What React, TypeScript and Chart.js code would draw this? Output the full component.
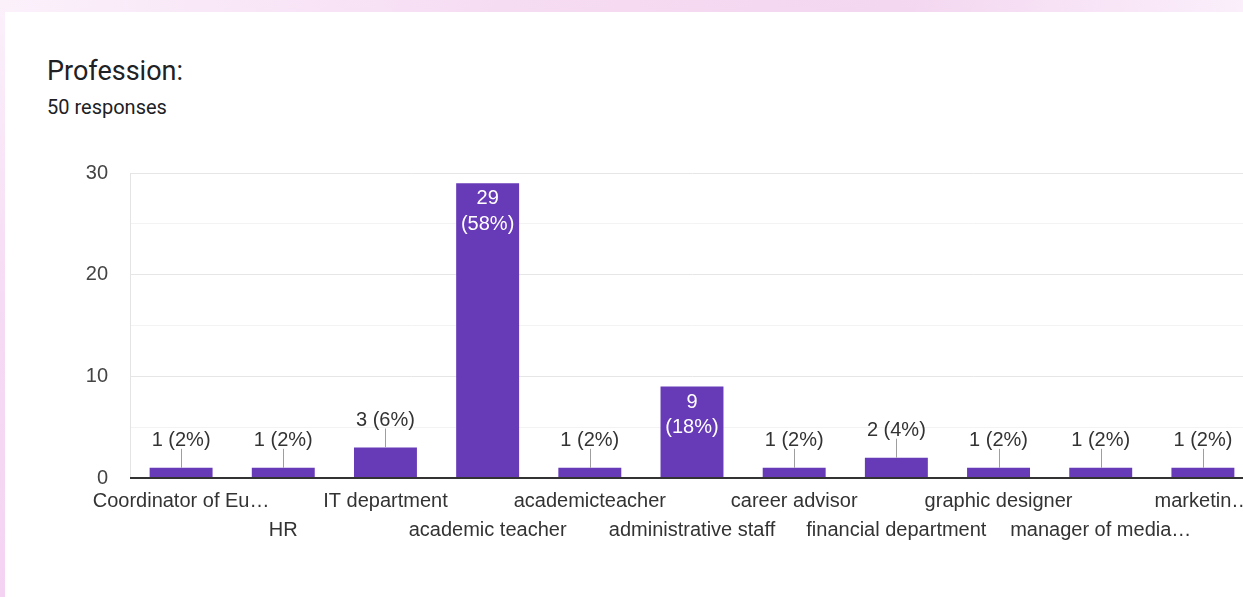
import React, { useEffect, useRef } from 'react';
import { Chart, registerables } from 'chart.js';

Chart.register(...registerables);

const categories = [
  'Coordinator of Eu…',
  'HR',
  'IT department',
  'academic teacher',
  'academicteacher',
  'administrative staff',
  'career advisor',
  'financial department',
  'graphic designer',
  'manager of media…',
  'marketin…',
];
const counts = [1, 1, 3, 29, 1, 9, 1, 2, 1, 1, 1];
const totalResponses = 50;
const yMax = 30;

const FONT = '"Liberation Sans", Arial, sans-serif';

const labelPlugin = {
  id: 'barLabels',
  afterDatasetsDraw(chart: any) {
    const { ctx, chartArea } = chart;
    const meta = chart.getDatasetMeta(0);
    ctx.save();
    ctx.font = `20px ${FONT}`;
    ctx.textAlign = 'center';
    ctx.textBaseline = 'middle';
    let baseY = chartArea.bottom;
    meta.data.forEach((bar: any, i: number) => {
      const v = counts[i];
      const pct = Math.round((v / totalResponses) * 100);
      const { x, y, base } = bar.getProps(['x', 'y', 'base'], true);
      baseY = base;
      const h = base - y;
      if (h > 60) {
        ctx.fillStyle = '#ffffff';
        ctx.fillText(String(v), x, y + 15.5);
        ctx.fillText(`(${pct}%)`, x, y + 41);
      } else {
        ctx.strokeStyle = '#9e9e9e';
        ctx.lineWidth = 1;
        ctx.beginPath();
        const lx = Math.round(x) + 0.5;
        ctx.moveTo(lx, y);
        ctx.lineTo(lx, y - 19);
        ctx.stroke();
        ctx.fillStyle = '#333333';
        ctx.fillText(`${v} (${pct}%)`, x, y - 27);
      }
    });
    ctx.strokeStyle = '#333333';
    ctx.lineWidth = 2;
    ctx.beginPath();
    ctx.moveTo(chartArea.left, Math.round(baseY));
    ctx.lineTo(chartArea.right, Math.round(baseY));
    ctx.stroke();
    ctx.restore();
  },
};

export default function App() {
  const canvasRef = useRef<HTMLCanvasElement | null>(null);

  useEffect(() => {
    if (!canvasRef.current) return;
    const chart = new Chart(canvasRef.current, {
      type: 'bar',
      data: {
        labels: categories,
        datasets: [
          {
            data: counts,
            backgroundColor: '#673ab7',
            borderWidth: 0,
            barPercentage: 0.616,
            categoryPercentage: 1,
          },
        ],
      },
      options: {
        animation: false,
        responsive: false,
        devicePixelRatio: 1,
        layout: { padding: { left: 70, top: 173, right: 66, bottom: 29 } },
        plugins: {
          legend: { display: false },
          tooltip: { enabled: false },
        },
        scales: {
          x: {
            grid: { display: false },
            border: { display: false },
            afterFit: (scale: any) => {
              scale.height = 90;
            },
            ticks: {
              autoSkip: false,
              maxRotation: 0,
              minRotation: 0,
              padding: 1,
              color: '#333333',
              font: { family: FONT, size: 20, lineHeight: 1.45 },
              callback: (_v: any, index: number) =>
                index % 2 === 0 ? categories[index] : ['', categories[index]],
            },
          },
          y: {
            min: 0,
            max: yMax,
            afterFit: (scale: any) => {
              scale.width = 60;
            },
            border: { display: true, color: '#e4e4e4', width: 1 },
            grid: {
              drawTicks: false,
              color: (c: any) => {
                const v = c.tick ? c.tick.value : 0;
                if (v === 0) return 'rgba(0,0,0,0)';
                return v % 10 === 0 ? '#e6e6e6' : '#f3f3f3';
              },
            },
            ticks: {
              stepSize: 5,
              padding: 22,
              color: '#444444',
              font: { family: FONT, size: 20 },
              callback: (v: any) => (Number(v) % 10 === 0 ? String(v) : ''),
            },
          },
        },
      },
      plugins: [labelPlugin],
    });
    return () => chart.destroy();
  }, []);

  return (
    <div
      style={{
        position: 'fixed',
        left: 0,
        top: 0,
        width: 1243,
        height: 597,
        overflow: 'hidden',
        background: '#ffffff',
      }}
    >
      <div
        style={{
          position: 'absolute',
          left: 0,
          top: 0,
          width: 1243,
          height: 12,
          background:
            'linear-gradient(90deg, #fbf1fb 0%, #f6dcf3 40%, #f3d6f0 72%, #fbeffb 100%)',
        }}
      />
      <div
        style={{
          position: 'absolute',
          left: 0,
          top: 0,
          width: 5,
          height: 597,
          background: 'linear-gradient(180deg, #fbf1fb 0%, #f6dbf4 50%, #f4d3f2 100%)',
        }}
      />
      <div
        style={{
          position: 'absolute',
          left: 47,
          top: 58,
          fontFamily: 'Roboto, sans-serif',
          fontSize: 27,
          lineHeight: '27px',
          color: '#202124',
          whiteSpace: 'nowrap',
        }}
      >
        Profession:
      </div>
      <div
        style={{
          position: 'absolute',
          left: 47,
          top: 97,
          fontFamily: 'Roboto, sans-serif',
          fontSize: 20,
          lineHeight: '20px',
          color: '#202124',
          whiteSpace: 'nowrap',
        }}
      >
        50 responses
      </div>
      <canvas
        ref={canvasRef}
        width={1320}
        height={597}
        style={{ position: 'absolute', left: 0, top: 0, width: 1320, height: 597 }}
      />
    </div>
  );
}
